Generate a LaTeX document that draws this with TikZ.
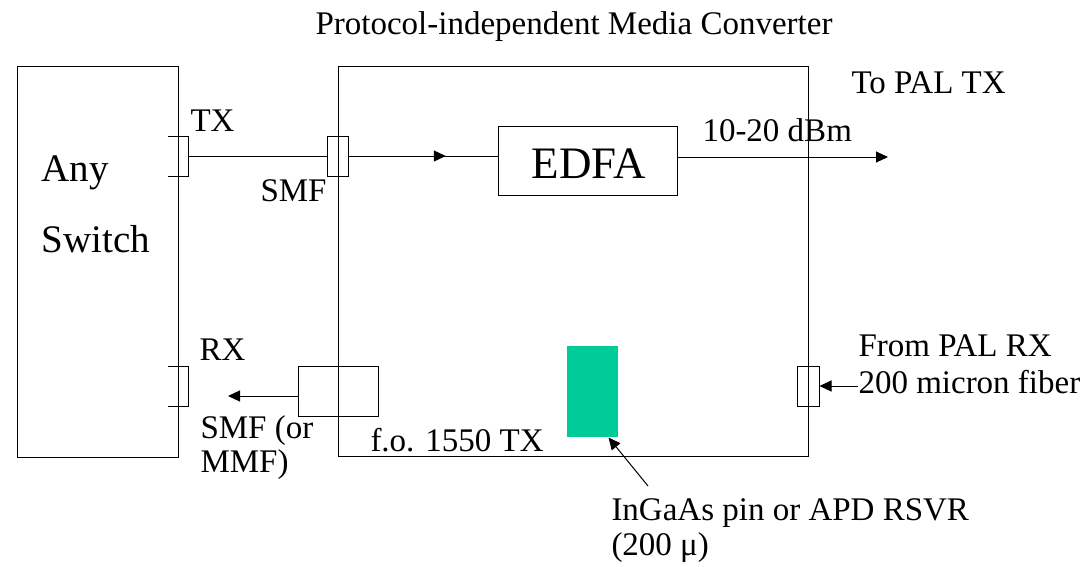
\documentclass[tikz,border=0pt]{standalone}
\usepackage{fontspec}
\setmainfont{Liberation Serif}
\usetikzlibrary{arrows.meta,decorations.markings}
\definecolor{detgreen}{RGB}{0,204,153}
\begin{document}
\begin{tikzpicture}[x=1pt,y=-1pt,
  line width=1pt,
  box/.style={draw,rectangle,inner sep=0pt},
  lbl/.style={anchor=base west,inner sep=0pt,font=\fontsize{33}{38}\selectfont},
  big/.style={anchor=base west,inner sep=0pt,font=\fontsize{39}{44}\selectfont},
  tip/.style={-{Triangle[length=12pt,width=11pt]}}]
\useasboundingbox (0,0) rectangle (1090,566);
% title
\node[anchor=base,inner sep=0pt,font=\fontsize{33}{38}\selectfont] (title) at (574,34) {Protocol-independent Media Converter};
% switch
\node[box,minimum width=161pt,minimum height=391pt] (sw) at (97.5,261.5) {};
\node[big] (any) at (41,181) {Any};
\node[big] (switch) at (41,252) {Switch};
% converter box
\node[box,minimum width=470pt,minimum height=390pt] (mc) at (573,261) {};
% TX port of switch (open rectangle)
\draw (168,136) -| (188,176) -- (168,176);
\coordinate (txp) at (188,156);
% RX port of switch
\draw (168,366) -| (188,406) -- (168,406);
% input connector of converter
\node[box,minimum width=21pt,minimum height=40pt] (inc) at (337.5,156) {};
% EDFA
\node[box,minimum width=179pt,minimum height=69pt] (edfa) at (587.5,160.5) {};
\node[anchor=base,inner sep=0pt,font=\fontsize{45}{50}\selectfont] (edfat) at (589,178) {EDFA};
% fiber lines
\draw (txp) -- (inc.west);
\draw[postaction={decorate},decoration={markings,mark=at position 0.653 with {\arrow{Triangle[length=12pt,width=11pt]}}}] (inc.east) -- (edfa.west |- inc.east);
\coordinate (outend) at (888,157);
\draw[tip] (edfa.east |- outend) -- (outend);
% transmitter
\node[box,minimum width=80pt,minimum height=50pt] (tx) at (338,391) {};
\coordinate (rxend) at (228,396);
\draw[tip] (tx.west |- rxend) -- (rxend);
% receiver connector
\node[box,minimum width=22pt,minimum height=40pt] (rc) at (808,386) {};
\coordinate (fromrx) at (858,386);
\draw[tip] (fromrx) -- (rc.east);
% detector
\node[fill=detgreen,inner sep=0pt,minimum width=51pt,minimum height=91pt] (det) at (592.5,391.5) {};
\coordinate (detlbl) at (648,486);
\draw[tip] (detlbl) -- ([xshift=-10pt]det.south east);
% labels
\node[lbl] (ltx) at (190,131) {TX};
\node[lbl] (lsmf) at (260,201) {SMF};
\node[lbl] (lrx) at (199,360) {RX};
\node[lbl] (lsmf2) at (200,438) {SMF (or};
\node[lbl] (lmmf) at (200,472) {MMF)};
\node[lbl] (lfo) at (370,451) {f.o. 1550 TX};
\node[lbl] (lto) at (851,93) {To PAL TX};
\node[lbl] (ldbm) at (702,141) {10-20 dBm};
\node[lbl] (lfrom) at (858,356) {From PAL RX};
\node[lbl] (lfib) at (858,393) {200 micron fiber};
\node[lbl] (lin) at (611,520) {InGaAs pin or APD RSVR};
\node[lbl] (l200) at (611,555) {(200 μ)};
\end{tikzpicture}
\end{document}
